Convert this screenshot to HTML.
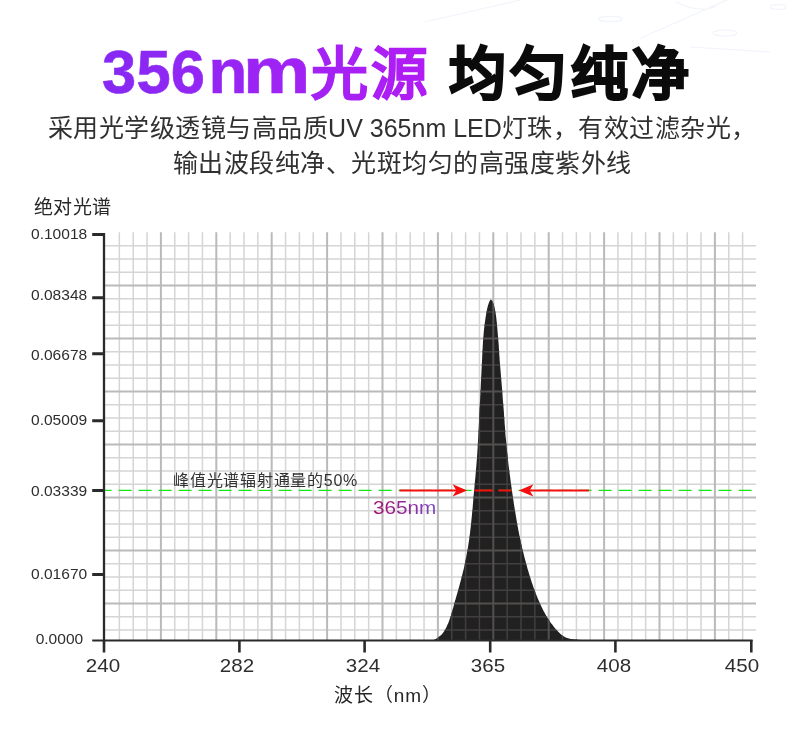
<!DOCTYPE html>
<html lang="zh-CN">
<head>
<meta charset="utf-8">
<title>356nm光源 均匀纯净</title>
<style>
html,body{margin:0;padding:0;overflow:hidden;}
body{width:790px;height:741px;position:relative;overflow:hidden;background:#fff;
  font-family:"Liberation Sans",sans-serif;color:#2b2a2a;}
.abs{position:absolute;white-space:nowrap;will-change:transform;}
.title{left:0;top:0;width:790px;height:110px;margin:0;font-size:60px;font-weight:bold;}
.title span{position:absolute;white-space:nowrap;line-height:80px;height:80px;}
.g{background:linear-gradient(90deg,#8529f3 0%,#9c24f4 50%,#b11cf4 100%);background-size:326px 80px;background-repeat:no-repeat;-webkit-background-clip:text;background-clip:text;color:transparent;-webkit-text-fill-color:transparent;}
.t1{left:102px;top:31px;font-size:61.5px;letter-spacing:0.2px;background-position:-2px 0;-webkit-text-stroke:0.6px transparent;}
.t1 b{font-size:63.5px;margin-left:3.4px;}
.t1m{left:242.8px;top:31px;font-size:65px;background-position:-146px 0;-webkit-text-stroke:0.6px transparent;transform-origin:0 50%;transform:scaleX(1.165);}
.t2{left:310.5px;top:33.5px;font-size:57px;letter-spacing:3.2px;background-position:-210.5px 0;-webkit-text-stroke:0.9px transparent;}
.t3{left:449px;top:33.5px;font-size:57px;letter-spacing:4px;color:#0b0b0b;-webkit-text-stroke:2px #0b0b0b;}
.sub{left:13.6px;width:776.4px;top:111.2px;font-size:25px;letter-spacing:0.5px;line-height:35.3px;text-align:center;color:#303030;font-weight:normal;margin:0;}
.lat{letter-spacing:0;}
.plot{position:absolute;left:0;top:0;}
.ylab{left:33.7px;top:196px;font-size:19px;letter-spacing:0.3px;line-height:24px;color:#262626;}
.yt{left:20px;width:67.2px;text-align:right;font-size:14.8px;line-height:16px;height:16px;transform-origin:100% 50%;transform:scaleX(1.05);color:#2f2e2e;}
.xt{width:60px;text-align:center;font-size:18.2px;line-height:20px;top:655.5px;transform:scaleX(1.13);color:#2f2e2e;}
.xlab{left:334px;top:683.5px;font-size:19px;letter-spacing:0.9px;line-height:24px;color:#262626;}
.note{left:173.3px;top:469.8px;font-size:16px;line-height:22px;letter-spacing:0.75px;color:#333;}
.nm{left:373.4px;top:496px;font-size:18px;line-height:24px;transform-origin:0 50%;transform:scaleX(1.15);
  background:linear-gradient(90deg,#a3146a 0%,#93289a 50%,#7a4bc9 100%);-webkit-background-clip:text;background-clip:text;color:transparent;-webkit-text-fill-color:transparent;}
</style>
</head>
<body>
<h1 class="abs title"><span class="g t1">356<b>n</b></span><span class="g t1m">m</span><span class="g t2">光源</span> <span class="t3">均匀纯净</span></h1>
<div class="abs sub">采用光学级透镜与高品质<span class="lat">UV 365nm LED</span>灯珠，有效过滤杂光，<br>输出波段纯净、光斑均匀的高强度紫外线</div>
<svg class="plot" width="790" height="741" viewBox="0 0 790 741">
<defs>
<clipPath id="pk"><path d="M490.9 299.6 L492.0 300.6 L492.6 301.8 L493.1 303.0 L493.6 304.2 L494.0 305.4 L494.3 306.6 L494.6 307.8 L494.9 309.0 L495.1 310.2 L495.3 311.4 L495.5 312.6 L495.7 313.8 L495.9 315.0 L496.1 316.2 L496.2 317.4 L496.4 318.6 L496.5 319.8 L496.6 321.0 L496.8 322.2 L496.9 323.4 L497.0 324.6 L497.1 325.8 L497.2 327.0 L497.3 328.2 L497.4 329.4 L497.5 330.6 L497.6 331.8 L497.7 333.0 L497.8 334.2 L497.9 335.4 L498.0 336.6 L498.1 337.8 L498.2 339.0 L498.3 340.2 L498.4 341.4 L498.5 342.6 L498.6 343.8 L498.7 345.0 L498.8 346.2 L498.8 347.4 L498.9 348.6 L499.0 349.8 L499.1 351.0 L499.2 352.2 L499.2 353.4 L499.3 354.6 L499.4 355.8 L499.5 357.0 L499.6 358.2 L499.6 359.4 L499.7 360.6 L499.8 361.8 L499.9 363.0 L500.0 364.2 L500.1 365.4 L500.2 366.6 L500.3 367.8 L500.4 369.0 L500.5 370.2 L500.6 371.4 L500.7 372.6 L500.8 373.8 L500.9 375.0 L501.0 376.2 L501.1 377.4 L501.2 378.6 L501.3 379.8 L501.4 381.0 L501.5 382.2 L501.6 383.4 L501.7 384.6 L501.8 385.8 L501.9 387.0 L502.0 388.2 L502.1 389.4 L502.2 390.6 L502.3 391.8 L502.4 393.0 L502.5 394.2 L502.6 395.4 L502.6 396.6 L502.7 397.8 L502.8 399.0 L502.9 400.2 L503.0 401.4 L503.1 402.6 L503.2 403.8 L503.3 405.0 L503.4 406.2 L503.5 407.4 L503.6 408.6 L503.7 409.8 L503.8 411.0 L503.9 412.2 L504.0 413.4 L504.0 414.6 L504.1 415.8 L504.2 417.0 L504.3 418.2 L504.4 419.4 L504.5 420.6 L504.6 421.8 L504.6 423.0 L504.7 424.2 L504.8 425.4 L504.9 426.6 L505.0 427.8 L505.1 429.0 L505.2 430.2 L505.3 431.4 L505.3 432.6 L505.4 433.8 L505.5 435.0 L505.6 436.2 L505.7 437.4 L505.9 438.6 L506.0 439.8 L506.1 441.0 L506.2 442.2 L506.3 443.4 L506.4 444.6 L506.5 445.8 L506.6 447.0 L506.8 448.2 L506.9 449.4 L507.0 450.6 L507.1 451.8 L507.2 453.0 L507.4 454.2 L507.5 455.4 L507.6 456.6 L507.8 457.8 L507.9 459.0 L508.0 460.2 L508.2 461.4 L508.3 462.6 L508.4 463.8 L508.6 465.0 L508.7 466.2 L508.9 467.4 L509.0 468.6 L509.2 469.8 L509.3 471.0 L509.5 472.2 L509.6 473.4 L509.8 474.6 L509.9 475.8 L510.1 477.0 L510.3 478.2 L510.4 479.4 L510.6 480.6 L510.7 481.8 L510.9 483.0 L511.1 484.2 L511.2 485.4 L511.4 486.6 L511.6 487.8 L511.7 489.0 L511.9 490.2 L512.1 491.4 L512.3 492.6 L512.4 493.8 L512.6 495.0 L512.8 496.2 L512.9 497.4 L513.1 498.6 L513.3 499.8 L513.5 501.0 L513.7 502.2 L513.8 503.4 L514.0 504.6 L514.2 505.8 L514.4 507.0 L514.6 508.2 L514.8 509.4 L515.0 510.6 L515.2 511.8 L515.4 513.0 L515.6 514.2 L515.8 515.4 L516.0 516.6 L516.2 517.8 L516.4 519.0 L516.6 520.2 L516.8 521.4 L517.0 522.6 L517.2 523.8 L517.4 525.0 L517.6 526.2 L517.9 527.4 L518.1 528.6 L518.3 529.8 L518.5 531.0 L518.8 532.2 L519.0 533.4 L519.2 534.6 L519.5 535.8 L519.7 537.0 L520.0 538.2 L520.2 539.4 L520.5 540.6 L520.7 541.8 L521.0 543.0 L521.3 544.2 L521.6 545.4 L521.8 546.6 L522.1 547.8 L522.4 549.0 L522.7 550.2 L523.0 551.4 L523.3 552.6 L523.6 553.8 L523.9 555.0 L524.2 556.2 L524.5 557.4 L524.8 558.6 L525.1 559.8 L525.5 561.0 L525.8 562.2 L526.1 563.4 L526.4 564.6 L526.8 565.8 L527.1 567.0 L527.4 568.2 L527.8 569.4 L528.1 570.6 L528.5 571.8 L528.8 573.0 L529.2 574.2 L529.6 575.4 L529.9 576.6 L530.3 577.8 L530.7 579.0 L531.1 580.2 L531.5 581.4 L531.8 582.6 L532.3 583.8 L532.7 585.0 L533.1 586.2 L533.5 587.4 L533.9 588.6 L534.4 589.8 L534.8 591.0 L535.3 592.2 L535.7 593.4 L536.2 594.6 L536.7 595.8 L537.2 597.0 L537.7 598.2 L538.2 599.4 L538.7 600.6 L539.2 601.8 L539.7 603.0 L540.3 604.2 L540.9 605.4 L541.4 606.6 L542.0 607.8 L542.6 609.0 L543.2 610.2 L543.8 611.4 L544.5 612.6 L545.1 613.8 L545.8 615.0 L546.5 616.2 L547.2 617.4 L548.0 618.6 L548.8 619.8 L549.6 621.0 L550.4 622.2 L551.3 623.4 L552.2 624.6 L553.1 625.8 L554.0 627.0 L555.0 628.2 L556.0 629.4 L557.1 630.6 L558.3 631.8 L559.5 633.0 L560.8 634.2 L562.2 635.4 L564.0 636.6 L566.2 637.8 L570.8 639.0 L584.0 640.2 L585.0 640.4 L433.0 640.4 L433.0 640.2 L435.7 639.0 L437.7 637.8 L439.2 636.6 L440.6 635.4 L441.9 634.2 L442.9 633.0 L443.8 631.8 L444.6 630.6 L445.2 629.4 L445.9 628.2 L446.5 627.0 L447.0 625.8 L447.6 624.6 L448.1 623.4 L448.6 622.2 L449.0 621.0 L449.5 619.8 L449.9 618.6 L450.3 617.4 L450.7 616.2 L451.1 615.0 L451.5 613.8 L451.8 612.6 L452.2 611.4 L452.5 610.2 L452.8 609.0 L453.2 607.8 L453.5 606.6 L453.8 605.4 L454.1 604.2 L454.5 603.0 L454.8 601.8 L455.1 600.6 L455.5 599.4 L455.8 598.2 L456.2 597.0 L456.5 595.8 L456.9 594.6 L457.2 593.4 L457.6 592.2 L457.9 591.0 L458.3 589.8 L458.6 588.6 L458.9 587.4 L459.2 586.2 L459.6 585.0 L459.9 583.8 L460.2 582.6 L460.5 581.4 L460.9 580.2 L461.2 579.0 L461.5 577.8 L461.8 576.6 L462.1 575.4 L462.4 574.2 L462.7 573.0 L463.0 571.8 L463.3 570.6 L463.6 569.4 L463.9 568.2 L464.2 567.0 L464.4 565.8 L464.7 564.6 L464.9 563.4 L465.2 562.2 L465.4 561.0 L465.7 559.8 L465.9 558.6 L466.1 557.4 L466.4 556.2 L466.6 555.0 L466.8 553.8 L467.0 552.6 L467.2 551.4 L467.4 550.2 L467.7 549.0 L467.9 547.8 L468.1 546.6 L468.2 545.4 L468.4 544.2 L468.6 543.0 L468.8 541.8 L469.0 540.6 L469.2 539.4 L469.3 538.2 L469.5 537.0 L469.6 535.8 L469.8 534.6 L470.0 533.4 L470.1 532.2 L470.2 531.0 L470.4 529.8 L470.5 528.6 L470.7 527.4 L470.8 526.2 L470.9 525.0 L471.0 523.8 L471.2 522.6 L471.3 521.4 L471.4 520.2 L471.5 519.0 L471.7 517.8 L471.8 516.6 L471.9 515.4 L472.0 514.2 L472.1 513.0 L472.3 511.8 L472.4 510.6 L472.5 509.4 L472.6 508.2 L472.7 507.0 L472.8 505.8 L472.9 504.6 L473.0 503.4 L473.1 502.2 L473.2 501.0 L473.3 499.8 L473.4 498.6 L473.5 497.4 L473.6 496.2 L473.7 495.0 L473.8 493.8 L473.9 492.6 L474.0 491.4 L474.2 490.2 L474.3 489.0 L474.4 487.8 L474.5 486.6 L474.6 485.4 L474.7 484.2 L474.8 483.0 L474.9 481.8 L475.0 480.6 L475.1 479.4 L475.3 478.2 L475.4 477.0 L475.5 475.8 L475.6 474.6 L475.7 473.4 L475.8 472.2 L475.9 471.0 L476.0 469.8 L476.1 468.6 L476.2 467.4 L476.3 466.2 L476.4 465.0 L476.5 463.8 L476.6 462.6 L476.7 461.4 L476.8 460.2 L476.9 459.0 L477.0 457.8 L477.0 456.6 L477.1 455.4 L477.2 454.2 L477.3 453.0 L477.4 451.8 L477.4 450.6 L477.5 449.4 L477.6 448.2 L477.7 447.0 L477.7 445.8 L477.8 444.6 L477.9 443.4 L477.9 442.2 L478.0 441.0 L478.1 439.8 L478.1 438.6 L478.2 437.4 L478.3 436.2 L478.3 435.0 L478.4 433.8 L478.5 432.6 L478.5 431.4 L478.6 430.2 L478.7 429.0 L478.7 427.8 L478.8 426.6 L478.8 425.4 L478.9 424.2 L478.9 423.0 L479.0 421.8 L479.1 420.6 L479.1 419.4 L479.2 418.2 L479.2 417.0 L479.3 415.8 L479.3 414.6 L479.4 413.4 L479.5 412.2 L479.5 411.0 L479.6 409.8 L479.6 408.6 L479.7 407.4 L479.8 406.2 L479.8 405.0 L479.9 403.8 L479.9 402.6 L480.0 401.4 L480.1 400.2 L480.1 399.0 L480.2 397.8 L480.2 396.6 L480.3 395.4 L480.4 394.2 L480.4 393.0 L480.5 391.8 L480.5 390.6 L480.6 389.4 L480.7 388.2 L480.7 387.0 L480.8 385.8 L480.8 384.6 L480.9 383.4 L480.9 382.2 L481.0 381.0 L481.1 379.8 L481.1 378.6 L481.2 377.4 L481.2 376.2 L481.3 375.0 L481.4 373.8 L481.4 372.6 L481.5 371.4 L481.5 370.2 L481.6 369.0 L481.7 367.8 L481.7 366.6 L481.8 365.4 L481.8 364.2 L481.9 363.0 L482.0 361.8 L482.0 360.6 L482.1 359.4 L482.1 358.2 L482.2 357.0 L482.2 355.8 L482.3 354.6 L482.4 353.4 L482.4 352.2 L482.5 351.0 L482.5 349.8 L482.6 348.6 L482.7 347.4 L482.7 346.2 L482.8 345.0 L482.9 343.8 L482.9 342.6 L483.0 341.4 L483.1 340.2 L483.2 339.0 L483.3 337.8 L483.4 336.6 L483.5 335.4 L483.6 334.2 L483.7 333.0 L483.8 331.8 L483.9 330.6 L484.0 329.4 L484.2 328.2 L484.3 327.0 L484.5 325.8 L484.6 324.6 L484.8 323.4 L484.9 322.2 L485.1 321.0 L485.3 319.8 L485.4 318.6 L485.6 317.4 L485.8 316.2 L486.0 315.0 L486.2 313.8 L486.4 312.6 L486.6 311.4 L486.9 310.2 L487.1 309.0 L487.4 307.8 L487.7 306.6 L488.0 305.4 L488.4 304.2 L488.8 303.0 L489.3 301.8 L489.9 300.6 Z"/></clipPath>
</defs>
<g fill="none" stroke="#f1f4fa" stroke-width="1.2" stroke-linecap="round">
<path d="M641 38L727 0M676 2Q700 14 716 6M425 22L520 0M690 47L770 52"/>
<ellipse cx="610.5" cy="19" rx="12" ry="2.6"/><ellipse cx="725" cy="33" rx="12" ry="3"/><ellipse cx="778" cy="7" rx="8" ry="2.4"/>
</g>
<g fill="none">
<path d="M119.35 232.2V640M133.20 232.2V640M147.05 232.2V640M174.75 232.2V640M188.60 232.2V640M202.45 232.2V640M230.15 232.2V640M244.00 232.2V640M257.85 232.2V640M285.55 232.2V640M299.40 232.2V640M313.25 232.2V640M340.95 232.2V640M354.80 232.2V640M368.65 232.2V640M396.35 232.2V640M410.20 232.2V640M424.05 232.2V640M451.75 232.2V640M465.60 232.2V640M479.45 232.2V640M507.15 232.2V640M521.00 232.2V640M534.85 232.2V640M562.55 232.2V640M576.40 232.2V640M590.25 232.2V640M617.95 232.2V640M631.80 232.2V640M645.65 232.2V640M673.35 232.2V640M687.20 232.2V640M701.05 232.2V640M728.75 232.2V640M742.60 232.2V640M105 245.65H756M105 258.90H756M105 272.15H756M105 298.65H756M105 311.90H756M105 325.15H756M105 351.65H756M105 364.90H756M105 378.15H756M105 404.65H756M105 417.90H756M105 431.15H756M105 457.65H756M105 470.90H756M105 484.15H756M105 510.65H756M105 523.90H756M105 537.15H756M105 563.65H756M105 576.90H756M105 590.15H756M105 616.65H756M105 629.90H756" stroke="#d5d5d5" stroke-width="1.5"/>
<path d="M160.90 232.2V640M216.30 232.2V640M271.70 232.2V640M327.10 232.2V640M382.50 232.2V640M437.90 232.2V640M493.30 232.2V640M548.70 232.2V640M604.10 232.2V640M659.50 232.2V640M714.90 232.2V640M105 285.40H756M105 338.40H756M105 391.40H756M105 444.40H756M105 497.40H756M105 550.40H756M105 603.40H756" stroke="#bababa" stroke-width="2"/>
</g>
<path d="M490.9 299.6 L492.0 300.6 L492.6 301.8 L493.1 303.0 L493.6 304.2 L494.0 305.4 L494.3 306.6 L494.6 307.8 L494.9 309.0 L495.1 310.2 L495.3 311.4 L495.5 312.6 L495.7 313.8 L495.9 315.0 L496.1 316.2 L496.2 317.4 L496.4 318.6 L496.5 319.8 L496.6 321.0 L496.8 322.2 L496.9 323.4 L497.0 324.6 L497.1 325.8 L497.2 327.0 L497.3 328.2 L497.4 329.4 L497.5 330.6 L497.6 331.8 L497.7 333.0 L497.8 334.2 L497.9 335.4 L498.0 336.6 L498.1 337.8 L498.2 339.0 L498.3 340.2 L498.4 341.4 L498.5 342.6 L498.6 343.8 L498.7 345.0 L498.8 346.2 L498.8 347.4 L498.9 348.6 L499.0 349.8 L499.1 351.0 L499.2 352.2 L499.2 353.4 L499.3 354.6 L499.4 355.8 L499.5 357.0 L499.6 358.2 L499.6 359.4 L499.7 360.6 L499.8 361.8 L499.9 363.0 L500.0 364.2 L500.1 365.4 L500.2 366.6 L500.3 367.8 L500.4 369.0 L500.5 370.2 L500.6 371.4 L500.7 372.6 L500.8 373.8 L500.9 375.0 L501.0 376.2 L501.1 377.4 L501.2 378.6 L501.3 379.8 L501.4 381.0 L501.5 382.2 L501.6 383.4 L501.7 384.6 L501.8 385.8 L501.9 387.0 L502.0 388.2 L502.1 389.4 L502.2 390.6 L502.3 391.8 L502.4 393.0 L502.5 394.2 L502.6 395.4 L502.6 396.6 L502.7 397.8 L502.8 399.0 L502.9 400.2 L503.0 401.4 L503.1 402.6 L503.2 403.8 L503.3 405.0 L503.4 406.2 L503.5 407.4 L503.6 408.6 L503.7 409.8 L503.8 411.0 L503.9 412.2 L504.0 413.4 L504.0 414.6 L504.1 415.8 L504.2 417.0 L504.3 418.2 L504.4 419.4 L504.5 420.6 L504.6 421.8 L504.6 423.0 L504.7 424.2 L504.8 425.4 L504.9 426.6 L505.0 427.8 L505.1 429.0 L505.2 430.2 L505.3 431.4 L505.3 432.6 L505.4 433.8 L505.5 435.0 L505.6 436.2 L505.7 437.4 L505.9 438.6 L506.0 439.8 L506.1 441.0 L506.2 442.2 L506.3 443.4 L506.4 444.6 L506.5 445.8 L506.6 447.0 L506.8 448.2 L506.9 449.4 L507.0 450.6 L507.1 451.8 L507.2 453.0 L507.4 454.2 L507.5 455.4 L507.6 456.6 L507.8 457.8 L507.9 459.0 L508.0 460.2 L508.2 461.4 L508.3 462.6 L508.4 463.8 L508.6 465.0 L508.7 466.2 L508.9 467.4 L509.0 468.6 L509.2 469.8 L509.3 471.0 L509.5 472.2 L509.6 473.4 L509.8 474.6 L509.9 475.8 L510.1 477.0 L510.3 478.2 L510.4 479.4 L510.6 480.6 L510.7 481.8 L510.9 483.0 L511.1 484.2 L511.2 485.4 L511.4 486.6 L511.6 487.8 L511.7 489.0 L511.9 490.2 L512.1 491.4 L512.3 492.6 L512.4 493.8 L512.6 495.0 L512.8 496.2 L512.9 497.4 L513.1 498.6 L513.3 499.8 L513.5 501.0 L513.7 502.2 L513.8 503.4 L514.0 504.6 L514.2 505.8 L514.4 507.0 L514.6 508.2 L514.8 509.4 L515.0 510.6 L515.2 511.8 L515.4 513.0 L515.6 514.2 L515.8 515.4 L516.0 516.6 L516.2 517.8 L516.4 519.0 L516.6 520.2 L516.8 521.4 L517.0 522.6 L517.2 523.8 L517.4 525.0 L517.6 526.2 L517.9 527.4 L518.1 528.6 L518.3 529.8 L518.5 531.0 L518.8 532.2 L519.0 533.4 L519.2 534.6 L519.5 535.8 L519.7 537.0 L520.0 538.2 L520.2 539.4 L520.5 540.6 L520.7 541.8 L521.0 543.0 L521.3 544.2 L521.6 545.4 L521.8 546.6 L522.1 547.8 L522.4 549.0 L522.7 550.2 L523.0 551.4 L523.3 552.6 L523.6 553.8 L523.9 555.0 L524.2 556.2 L524.5 557.4 L524.8 558.6 L525.1 559.8 L525.5 561.0 L525.8 562.2 L526.1 563.4 L526.4 564.6 L526.8 565.8 L527.1 567.0 L527.4 568.2 L527.8 569.4 L528.1 570.6 L528.5 571.8 L528.8 573.0 L529.2 574.2 L529.6 575.4 L529.9 576.6 L530.3 577.8 L530.7 579.0 L531.1 580.2 L531.5 581.4 L531.8 582.6 L532.3 583.8 L532.7 585.0 L533.1 586.2 L533.5 587.4 L533.9 588.6 L534.4 589.8 L534.8 591.0 L535.3 592.2 L535.7 593.4 L536.2 594.6 L536.7 595.8 L537.2 597.0 L537.7 598.2 L538.2 599.4 L538.7 600.6 L539.2 601.8 L539.7 603.0 L540.3 604.2 L540.9 605.4 L541.4 606.6 L542.0 607.8 L542.6 609.0 L543.2 610.2 L543.8 611.4 L544.5 612.6 L545.1 613.8 L545.8 615.0 L546.5 616.2 L547.2 617.4 L548.0 618.6 L548.8 619.8 L549.6 621.0 L550.4 622.2 L551.3 623.4 L552.2 624.6 L553.1 625.8 L554.0 627.0 L555.0 628.2 L556.0 629.4 L557.1 630.6 L558.3 631.8 L559.5 633.0 L560.8 634.2 L562.2 635.4 L564.0 636.6 L566.2 637.8 L570.8 639.0 L584.0 640.2 L585.0 640.4 L433.0 640.4 L433.0 640.2 L435.7 639.0 L437.7 637.8 L439.2 636.6 L440.6 635.4 L441.9 634.2 L442.9 633.0 L443.8 631.8 L444.6 630.6 L445.2 629.4 L445.9 628.2 L446.5 627.0 L447.0 625.8 L447.6 624.6 L448.1 623.4 L448.6 622.2 L449.0 621.0 L449.5 619.8 L449.9 618.6 L450.3 617.4 L450.7 616.2 L451.1 615.0 L451.5 613.8 L451.8 612.6 L452.2 611.4 L452.5 610.2 L452.8 609.0 L453.2 607.8 L453.5 606.6 L453.8 605.4 L454.1 604.2 L454.5 603.0 L454.8 601.8 L455.1 600.6 L455.5 599.4 L455.8 598.2 L456.2 597.0 L456.5 595.8 L456.9 594.6 L457.2 593.4 L457.6 592.2 L457.9 591.0 L458.3 589.8 L458.6 588.6 L458.9 587.4 L459.2 586.2 L459.6 585.0 L459.9 583.8 L460.2 582.6 L460.5 581.4 L460.9 580.2 L461.2 579.0 L461.5 577.8 L461.8 576.6 L462.1 575.4 L462.4 574.2 L462.7 573.0 L463.0 571.8 L463.3 570.6 L463.6 569.4 L463.9 568.2 L464.2 567.0 L464.4 565.8 L464.7 564.6 L464.9 563.4 L465.2 562.2 L465.4 561.0 L465.7 559.8 L465.9 558.6 L466.1 557.4 L466.4 556.2 L466.6 555.0 L466.8 553.8 L467.0 552.6 L467.2 551.4 L467.4 550.2 L467.7 549.0 L467.9 547.8 L468.1 546.6 L468.2 545.4 L468.4 544.2 L468.6 543.0 L468.8 541.8 L469.0 540.6 L469.2 539.4 L469.3 538.2 L469.5 537.0 L469.6 535.8 L469.8 534.6 L470.0 533.4 L470.1 532.2 L470.2 531.0 L470.4 529.8 L470.5 528.6 L470.7 527.4 L470.8 526.2 L470.9 525.0 L471.0 523.8 L471.2 522.6 L471.3 521.4 L471.4 520.2 L471.5 519.0 L471.7 517.8 L471.8 516.6 L471.9 515.4 L472.0 514.2 L472.1 513.0 L472.3 511.8 L472.4 510.6 L472.5 509.4 L472.6 508.2 L472.7 507.0 L472.8 505.8 L472.9 504.6 L473.0 503.4 L473.1 502.2 L473.2 501.0 L473.3 499.8 L473.4 498.6 L473.5 497.4 L473.6 496.2 L473.7 495.0 L473.8 493.8 L473.9 492.6 L474.0 491.4 L474.2 490.2 L474.3 489.0 L474.4 487.8 L474.5 486.6 L474.6 485.4 L474.7 484.2 L474.8 483.0 L474.9 481.8 L475.0 480.6 L475.1 479.4 L475.3 478.2 L475.4 477.0 L475.5 475.8 L475.6 474.6 L475.7 473.4 L475.8 472.2 L475.9 471.0 L476.0 469.8 L476.1 468.6 L476.2 467.4 L476.3 466.2 L476.4 465.0 L476.5 463.8 L476.6 462.6 L476.7 461.4 L476.8 460.2 L476.9 459.0 L477.0 457.8 L477.0 456.6 L477.1 455.4 L477.2 454.2 L477.3 453.0 L477.4 451.8 L477.4 450.6 L477.5 449.4 L477.6 448.2 L477.7 447.0 L477.7 445.8 L477.8 444.6 L477.9 443.4 L477.9 442.2 L478.0 441.0 L478.1 439.8 L478.1 438.6 L478.2 437.4 L478.3 436.2 L478.3 435.0 L478.4 433.8 L478.5 432.6 L478.5 431.4 L478.6 430.2 L478.7 429.0 L478.7 427.8 L478.8 426.6 L478.8 425.4 L478.9 424.2 L478.9 423.0 L479.0 421.8 L479.1 420.6 L479.1 419.4 L479.2 418.2 L479.2 417.0 L479.3 415.8 L479.3 414.6 L479.4 413.4 L479.5 412.2 L479.5 411.0 L479.6 409.8 L479.6 408.6 L479.7 407.4 L479.8 406.2 L479.8 405.0 L479.9 403.8 L479.9 402.6 L480.0 401.4 L480.1 400.2 L480.1 399.0 L480.2 397.8 L480.2 396.6 L480.3 395.4 L480.4 394.2 L480.4 393.0 L480.5 391.8 L480.5 390.6 L480.6 389.4 L480.7 388.2 L480.7 387.0 L480.8 385.8 L480.8 384.6 L480.9 383.4 L480.9 382.2 L481.0 381.0 L481.1 379.8 L481.1 378.6 L481.2 377.4 L481.2 376.2 L481.3 375.0 L481.4 373.8 L481.4 372.6 L481.5 371.4 L481.5 370.2 L481.6 369.0 L481.7 367.8 L481.7 366.6 L481.8 365.4 L481.8 364.2 L481.9 363.0 L482.0 361.8 L482.0 360.6 L482.1 359.4 L482.1 358.2 L482.2 357.0 L482.2 355.8 L482.3 354.6 L482.4 353.4 L482.4 352.2 L482.5 351.0 L482.5 349.8 L482.6 348.6 L482.7 347.4 L482.7 346.2 L482.8 345.0 L482.9 343.8 L482.9 342.6 L483.0 341.4 L483.1 340.2 L483.2 339.0 L483.3 337.8 L483.4 336.6 L483.5 335.4 L483.6 334.2 L483.7 333.0 L483.8 331.8 L483.9 330.6 L484.0 329.4 L484.2 328.2 L484.3 327.0 L484.5 325.8 L484.6 324.6 L484.8 323.4 L484.9 322.2 L485.1 321.0 L485.3 319.8 L485.4 318.6 L485.6 317.4 L485.8 316.2 L486.0 315.0 L486.2 313.8 L486.4 312.6 L486.6 311.4 L486.9 310.2 L487.1 309.0 L487.4 307.8 L487.7 306.6 L488.0 305.4 L488.4 304.2 L488.8 303.0 L489.3 301.8 L489.9 300.6 Z" fill="#222121"/>
<g fill="none" clip-path="url(#pk)">
<path d="M119.35 232.2V640M133.20 232.2V640M147.05 232.2V640M174.75 232.2V640M188.60 232.2V640M202.45 232.2V640M230.15 232.2V640M244.00 232.2V640M257.85 232.2V640M285.55 232.2V640M299.40 232.2V640M313.25 232.2V640M340.95 232.2V640M354.80 232.2V640M368.65 232.2V640M396.35 232.2V640M410.20 232.2V640M424.05 232.2V640M451.75 232.2V640M465.60 232.2V640M479.45 232.2V640M507.15 232.2V640M521.00 232.2V640M534.85 232.2V640M562.55 232.2V640M576.40 232.2V640M590.25 232.2V640M617.95 232.2V640M631.80 232.2V640M645.65 232.2V640M673.35 232.2V640M687.20 232.2V640M701.05 232.2V640M728.75 232.2V640M742.60 232.2V640M105 245.65H756M105 258.90H756M105 272.15H756M105 298.65H756M105 311.90H756M105 325.15H756M105 351.65H756M105 364.90H756M105 378.15H756M105 404.65H756M105 417.90H756M105 431.15H756M105 457.65H756M105 470.90H756M105 484.15H756M105 510.65H756M105 523.90H756M105 537.15H756M105 563.65H756M105 576.90H756M105 590.15H756M105 616.65H756M105 629.90H756" stroke="#413f3f" stroke-width="1.5"/>
<path d="M160.90 232.2V640M216.30 232.2V640M271.70 232.2V640M327.10 232.2V640M382.50 232.2V640M437.90 232.2V640M493.30 232.2V640M548.70 232.2V640M604.10 232.2V640M659.50 232.2V640M714.90 232.2V640M105 285.40H756M105 338.40H756M105 391.40H756M105 444.40H756M105 497.40H756M105 550.40H756M105 603.40H756" stroke="#524f4f" stroke-width="2"/>
</g>
<!-- green 50% line -->
<path d="M98.6 490.4H752" stroke="#10ea10" stroke-width="1.1" stroke-dasharray="13 7" fill="none"/>
<!-- red dashes + arrows -->
<path d="M474.4 490.4H493M498.6 490.4H511.4" stroke="#f60d0d" stroke-width="2" fill="none"/>
<path d="M399.5 490.4H458M529 490.4H589" stroke="#f60d0d" stroke-width="2" fill="none"/>
<path d="M467.2 490.4L452.6 484.2L456.4 490.4L452.6 496.6Z" fill="#f60d0d"/>
<path d="M518.8 490.4L533.4 484.2L529.6 490.4L533.4 496.6Z" fill="#f60d0d"/>
<!-- axes -->
<g stroke="#2b2a2a" fill="none">
<path d="M104 233V641.4" stroke-width="2.3"/>
<path d="M92.2 640.5H752.6" stroke-width="2"/>
<path d="M92.2 234.6H104M92.2 297.7H104M92.2 353.8H104M92.2 420.7H104M92.2 490.6H104M92.2 574.6H104" stroke-width="3"/>
<path d="M104 640V652.4M239.4 640V652.4M364.6 640V652.4M490.2 640V652.4M615.4 640V652.4M751.3 640V652.4" stroke-width="2.6"/>
</g>
</svg>
<div class="abs ylab">绝对光谱</div>
<div class="abs yt" style="top:226px">0.10018</div>
<div class="abs yt" style="top:287.2px">0.08348</div>
<div class="abs yt" style="top:346.8px">0.06678</div>
<div class="abs yt" style="top:412.3px">0.05009</div>
<div class="abs yt" style="top:483.2px">0.03339</div>
<div class="abs yt" style="top:566px">0.01670</div>
<div class="abs yt" style="top:630.8px;left:16.4px">0.0000</div>
<div class="abs xt" style="left:73.0px">240</div>
<div class="abs xt" style="left:207.3px">282</div>
<div class="abs xt" style="left:333.2px">324</div>
<div class="abs xt" style="left:458.1px">365</div>
<div class="abs xt" style="left:583.9px">408</div>
<div class="abs xt" style="left:712.1px">450</div>
<div class="abs xlab">波长（nm）</div>
<div class="abs note">峰值光谱辐射通量的50%</div>
<div class="abs nm">365nm</div>
</body>
</html>
